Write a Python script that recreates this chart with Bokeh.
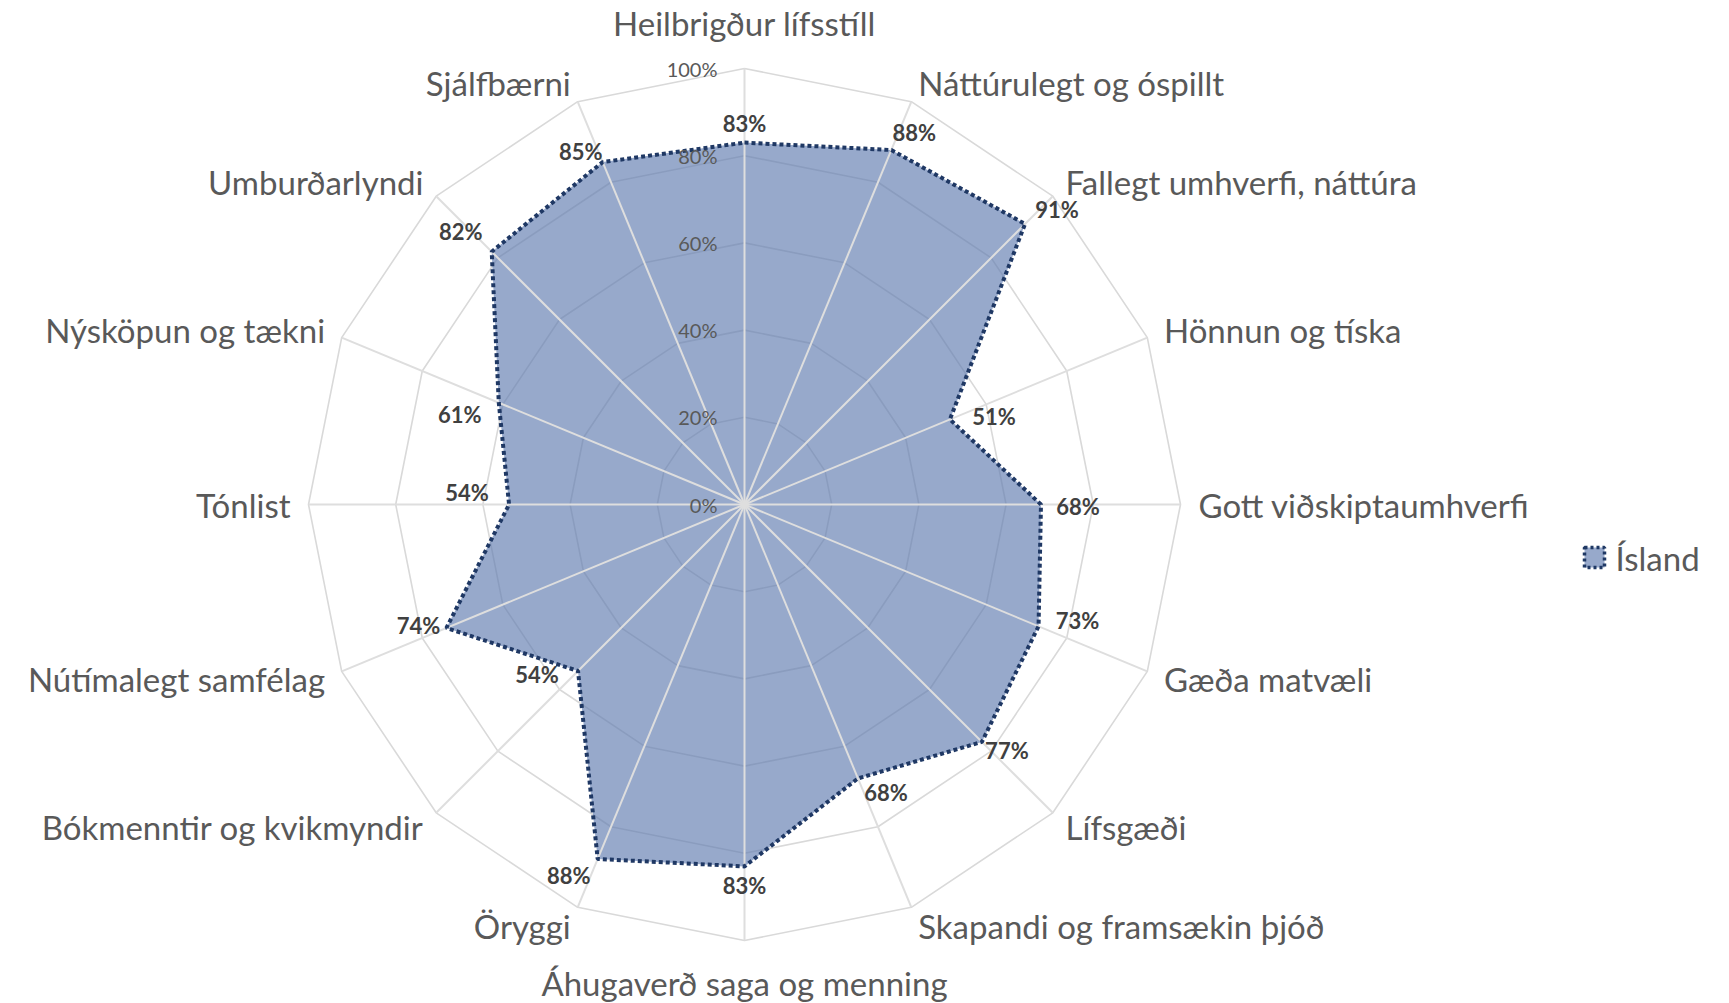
import numpy as np
from bokeh.plotting import figure
from bokeh.models import Range1d
from bokeh.core.properties import value
from bokeh.embed import file_html
from bokeh.resources import INLINE

categories = ["Heilbrigður lífsstíll", "Náttúrulegt og óspillt", "Fallegt umhverfi, náttúra",
              "Hönnun og tíska", "Gott viðskiptaumhverfi", "Gæða matvæli", "Lífsgæði",
              "Skapandi og framsækin þjóð", "Áhugaverð saga og menning", "Öryggi",
              "Bókmenntir og kvikmyndir", "Nútímalegt samfélag", "Tónlist",
              "Nýsköpun og tækni", "Umburðarlyndi", "Sjálfbærni"]
island = [0.83, 0.88, 0.91, 0.51, 0.68, 0.73, 0.77, 0.68,
          0.83, 0.88, 0.54, 0.74, 0.54, 0.61, 0.82, 0.85]
tick_values = [0.0, 0.2, 0.4, 0.6, 0.8, 1.0]
tick_labels = ["0%", "20%", "40%", "60%", "80%", "100%"]
series_name = "Ísland"

# style: data-label offsets from each point, in screen pixels (right, down)
label_dx = [0, 23, 32, 44, 37, 39, 25, 28, 0, -29, -41, -28, -42, -39, -31, -22]
label_dy = [-19, -18, -14, -3, 2, -6, 9, 14, 19, 17, 4, -2, -12, 12, -20, -11]

W, H = 1729, 1003
CX, CY = 744, 504
R = 436.0
FONT = value("Lato")

n = len(categories)
theta = np.arange(n) * 2 * np.pi / n
S, C = np.sin(theta), np.cos(theta)

p = figure(width=W, height=H, output_backend="svg", toolbar_location=None,
           x_range=Range1d(-CX / R, (W - CX) / R), y_range=Range1d(-(H - CY) / R, CY / R),
           x_axis_type=None, y_axis_type=None, min_border=0, outline_line_color=None)
p.grid.visible = False
p.background_fill_color = "white"

# polygon grid
for tv in tick_values[1:]:
    xs = list(tv * S) + [tv * S[0]]
    ys = list(tv * C) + [tv * C[0]]
    p.line(xs, ys, line_color="#d9d9d9", line_width=1.6)

# series fill
vals = np.array(island)
px, py = vals * S, vals * C
p.patch(list(px), list(py), fill_color="#617db0", fill_alpha=0.66, line_color=None)

# spokes
p.multi_line([[0, s] for s in S], [[0, c] for c in C], line_color="#dedede", line_width=2)

# series outline
p.line(list(px) + [px[0]], list(py) + [py[0]], line_color="#1f3864", line_width=4,
       line_dash="4 3")

# tick labels
p.text(x=[-27 / R] * len(tick_values), y=tick_values, text=tick_labels,
       text_font=FONT, text_font_size="20px", text_color="#595959",
       text_align="right", text_baseline="middle")

# category labels
for i in range(n):
    s, c = S[i], C[i]
    if abs(s) < 1e-9:
        x, y, a = 0.0, c + (46 / R if c > 0 else -42 / R), "center"
    else:
        x, y, a = s + 18 * s / R, c + 20 * c / R, ("left" if s > 0 else "right")
    p.text(x=[x], y=[y], text=[categories[i]], text_font=FONT,
           text_font_size="33px", text_color="#595959", text_align=a,
           text_baseline="middle")

# data labels
dx = px + np.array(label_dx) / R
dy = py - np.array(label_dy) / R
p.text(x=list(dx), y=list(dy), text=[f"{round(v * 100)}%" for v in island],
       text_font=FONT, text_font_size="22px", text_font_style="bold",
       text_color="#404040", text_align="center", text_baseline="middle")

# legend
lgy = (CY - 557) / R
p.rect(x=[(1594 - CX) / R], y=[lgy], width=20, height=20, width_units="screen",
       height_units="screen", fill_color="#617db0", fill_alpha=0.66, line_color="#1f3864",
       line_width=3.5, line_dash="3 3")
p.text(x=[(1615 - CX) / R], y=[lgy], text=[series_name], text_font=FONT,
       text_font_size="33px", text_color="#595959", text_align="left", text_baseline="middle")

open("out.html", "w").write(file_html(p, INLINE))
